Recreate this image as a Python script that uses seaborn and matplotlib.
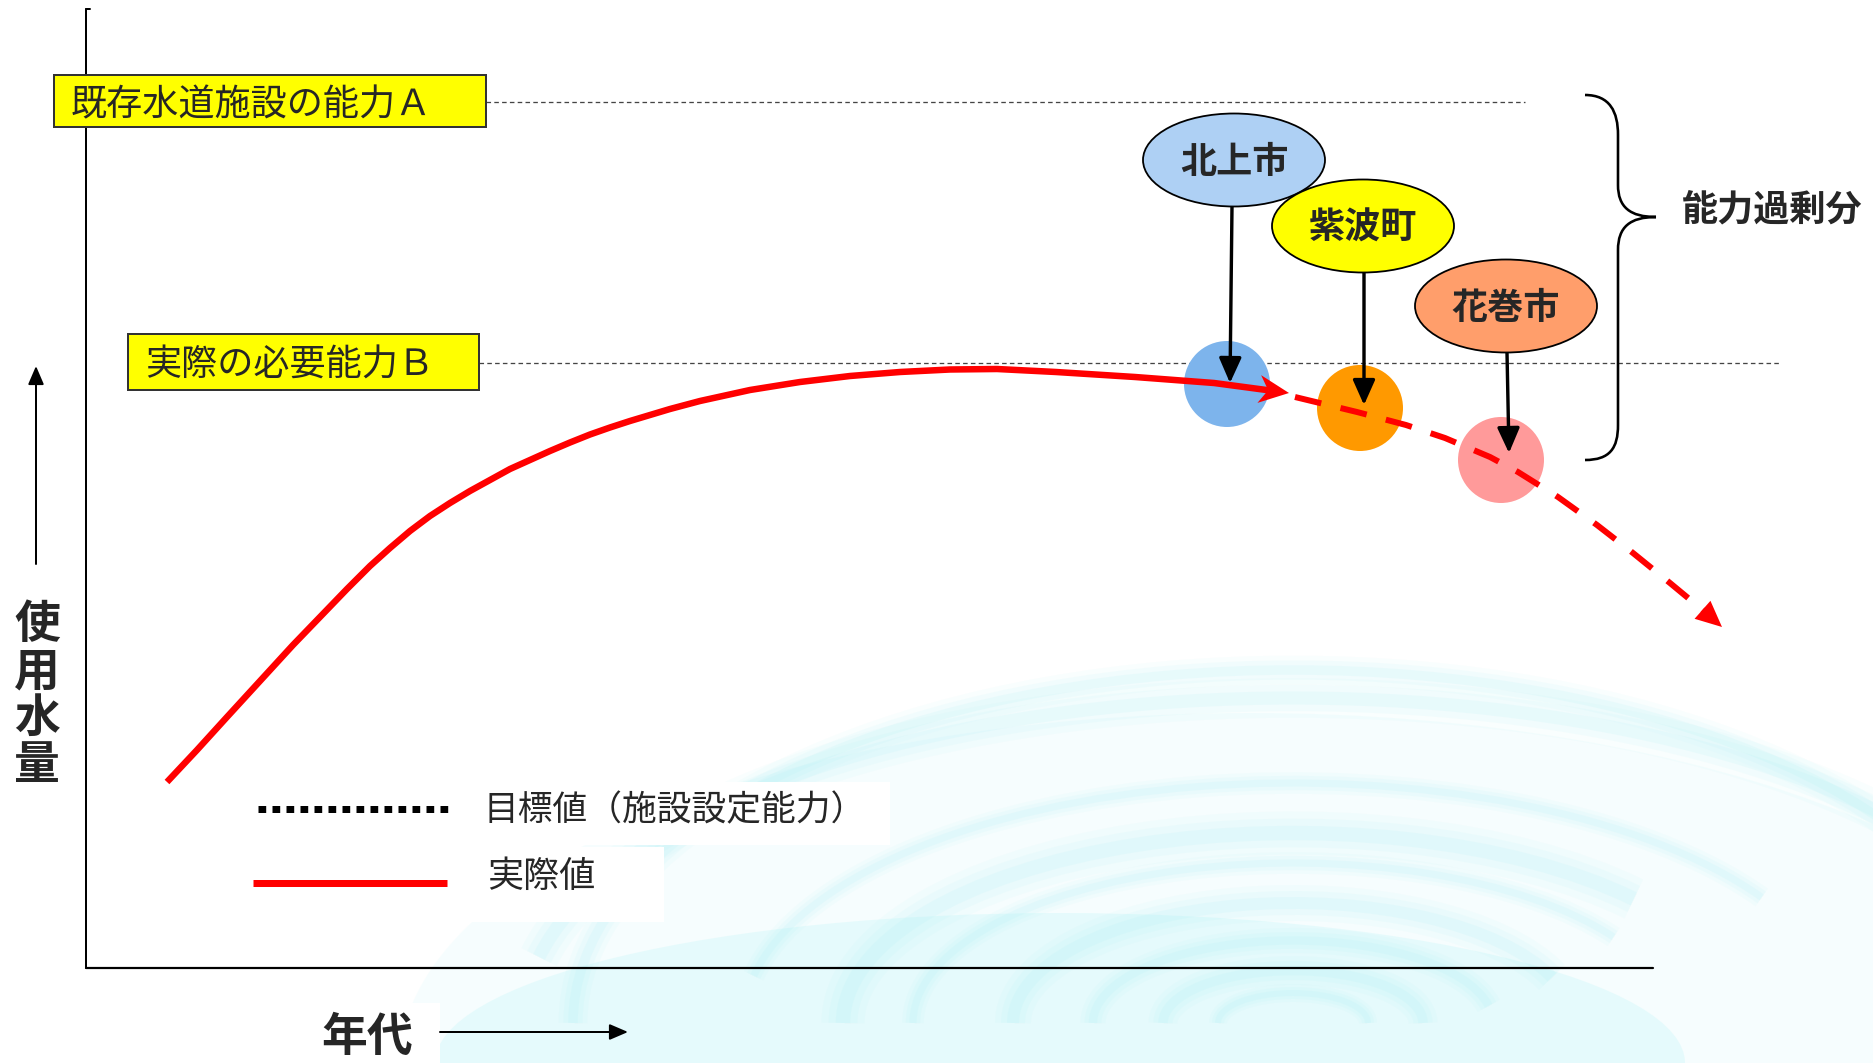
import numpy as np
import pandas as pd
import matplotlib
matplotlib.use("Agg")
import matplotlib.pyplot as plt
import seaborn as sns
from matplotlib.patches import Ellipse, Rectangle, Polygon, Arc, PathPatch
from matplotlib.path import Path

# ---------------- data (pixel-space diagram coordinates) ----------------
actual_x = [167, 197, 227, 260, 293, 320, 347, 370, 390, 410, 430, 450, 470, 490, 510, 530,
            550, 570, 590, 610, 630, 650, 670, 700, 750, 800, 850, 900, 950, 997, 1056, 1135,
            1214, 1289]
actual_y = [782, 750, 717, 681, 645, 617, 589, 566, 548, 531, 516, 503, 491, 480, 469, 460,
            451, 442.5, 434.5, 427.5, 421, 415, 409, 401, 390, 382, 376, 372, 369.5, 369, 372,
            377, 383, 393]
forecast_x = [1295, 1357, 1406, 1445, 1490, 1518, 1558, 1597, 1633, 1670, 1705, 1722]
forecast_y = [397, 412, 425, 438, 457, 472, 497, 525, 553, 583, 612, 627]

capacity_labels = ['既存水道施設の能力Ａ', '実際の必要能力Ｂ']
capacity_levels = [102, 363]
capacity_line_start = [486, 479]
capacity_line_end = [1525, 1780]

cities = ['北上市', '紫波町', '花巻市']
city_x = [1227, 1360, 1501]
city_y = [384, 408, 460]
label_x = [1234, 1363, 1506]
label_y = [160, 226, 306]
arrow_tip_x = [1230, 1364, 1509]
arrow_tip_y = [383, 405, 453]

legend_labels = ['目標値（施設設定能力）', '実際値']
y_label = '使用水量'
x_label = '年代'
surplus_label = '能力過剰分'

# ---------------- style ----------------
sns.set_style('white')
plt.rcParams['font.family'] = ['Noto Sans CJK JP', 'DejaVu Sans']

W, H = 1874, 1063
fig = plt.figure(figsize=(W / 100, H / 100), dpi=100)
ax = fig.add_axes([0, 0, 1, 1])
ax.set_xlim(0, W)
ax.set_ylim(H, 0)
ax.axis('off')

PT = 0.72   # points per pixel at dpi 100
DY = 3      # vertical nudge so CJK glyphs sit visually centred

# ---------------- faint water-ripple background ----------------
cx, cy = 1293, 1023
ax.add_patch(Ellipse((1250, 1063), 1700, 700, facecolor='#c6f7f9', alpha=0.14, lw=0, zorder=0))
ax.add_patch(Ellipse((1060, 1063), 1250, 300, facecolor='#bff6f8', alpha=0.3, lw=0, zorder=0))
rings = [(1440, 706, 16, 180, 350), (1540, 650, 22, 185, 345), (1100, 480, 12, 185, 345),
         (900, 380, 24, 180, 340), (760, 320, 12, 180, 345), (560, 240, 20, 180, 350),
         (400, 165, 14, 180, 355), (260, 105, 16, 180, 360), (150, 60, 10, 180, 360)]
for rw, rh, rlw, t1, t2 in rings:
    for k, a in [(1.8, 0.06), (1.2, 0.08), (0.6, 0.11)]:
        ax.add_patch(Arc((cx, cy), rw, rh, theta1=t1, theta2=t2, color='#9eeef3',
                         lw=rlw * k * PT, alpha=a, zorder=0))
# white areas that mask the ripple behind texts
ax.add_patch(Rectangle((472, 782), 418, 63, facecolor='white', lw=0, zorder=1))
ax.add_patch(Rectangle((470, 847), 194, 75, facecolor='white', lw=0, zorder=1))
ax.add_patch(Rectangle((0, 1003), 440, 60, facecolor='white', lw=0, zorder=1))

# ---------------- axes ----------------
ax.plot([86, 86], [9, 968], color='black', lw=2 * PT, zorder=3)
ax.plot([86, 90], [9, 9], color='black', lw=2 * PT, zorder=3)
ax.plot([86, 1653], [968, 968], color='black', lw=2.2 * PT, zorder=3)

ax.annotate('', xy=(36, 366), xytext=(36, 564),
            arrowprops=dict(arrowstyle='-|>,head_length=0.7,head_width=0.3', color='black',
                            lw=2 * PT, shrinkA=0, shrinkB=0, mutation_scale=16), zorder=3)
ax.annotate('', xy=(628, 1032), xytext=(440, 1032),
            arrowprops=dict(arrowstyle='-|>,head_length=0.7,head_width=0.3', color='black',
                            lw=2 * PT, shrinkA=0, shrinkB=0, mutation_scale=16), zorder=3)

for i, ch in enumerate(y_label):
    ax.text(37, 622 + 47 * i + DY, ch, fontsize=33, fontweight='bold', ha='center',
            va='center', zorder=4)
ax.text(367, 1035 + DY, x_label, fontsize=33, fontweight='bold', ha='center', va='center',
        zorder=4)

# ---------------- capacity levels ----------------
box_specs = [(54, 75, 432, 52, 71), (128, 334, 351, 56, 145)]
for lab, lev, x0, x1, (bx, by, bw, bh, tx) in zip(capacity_labels, capacity_levels,
                                                   capacity_line_start, capacity_line_end,
                                                   box_specs):
    ax.plot([x0, x1], [lev, lev], color='#444444', lw=1.3 * PT, linestyle=(0, (3.5, 2.5)),
            zorder=2)
    ax.add_patch(Rectangle((bx, by), bw, bh, facecolor='#ffff00', edgecolor='#333333',
                           lw=2 * PT, zorder=4))
    ax.text(tx, by + bh / 2 + DY + 1, lab, fontsize=26, ha='left', va='center', zorder=5)

# ---------------- city markers ----------------
mk = pd.DataFrame({'x': city_x, 'y': city_y, 'city': cities})
sns.scatterplot(data=mk, x='x', y='y', hue='city', hue_order=cities,
                palette=['#7db4ec', '#ff9900', '#ff9a9a'], s=(86 * PT) ** 2,
                linewidth=0, legend=False, ax=ax, zorder=3)

# ---------------- red usage curve ----------------
tip = np.array([actual_x[-1], actual_y[-1]], float)
prev = np.array([actual_x[-2], actual_y[-2]], float)
d = (tip - prev) / np.linalg.norm(tip - prev)
n = np.array([-d[1], d[0]])
L, Wd, N = 30, 14, 9
notch = tip - (L - N) * d
line_x = actual_x[:-1] + [notch[0]]
line_y = actual_y[:-1] + [notch[1]]
sns.lineplot(x=line_x, y=line_y, sort=False, estimator=None, color='#ff0000',
             lw=6.5 * PT, ax=ax, zorder=6, solid_capstyle='butt', solid_joinstyle='round')
ax.add_patch(Polygon([tip, tip - L * d + Wd * n, notch, tip - L * d - Wd * n],
                     closed=True, facecolor='#ff0000', edgecolor='none', zorder=6))

ftip = np.array([forecast_x[-1], forecast_y[-1]], float)
fprev = np.array([forecast_x[-2], forecast_y[-2]], float)
fd = (ftip - fprev) / np.linalg.norm(ftip - fprev)
fn = np.array([-fd[1], fd[0]])
FL, FW = 26, 12
fbase = ftip - FL * fd
sns.lineplot(x=forecast_x[:-1] + [fbase[0]], y=forecast_y[:-1] + [fbase[1]], sort=False,
             estimator=None, color='#ff0000', lw=6 * PT, ax=ax, zorder=6,
             linestyle=(0, (4.5, 3.3)), dash_capstyle='butt')
ax.add_patch(Polygon([ftip, fbase + FW * fn, fbase - FW * fn], closed=True,
                     facecolor='#ff0000', edgecolor='none', zorder=6))

# ---------------- city labels and arrows ----------------
label_colors = ['#aed0f4', '#ffff00', '#ff9e6b']
for i, (c, lx, ly, tx_, ty_, col) in enumerate(zip(cities, label_x, label_y, arrow_tip_x,
                                                   arrow_tip_y, label_colors)):
    ax.add_patch(Ellipse((lx, ly), 182, 93, facecolor=col, edgecolor='black',
                         lw=1.8 * PT, zorder=8 + i))
    ax.text(lx, ly + DY - 1, c, fontsize=26, fontweight='bold', ha='center', va='center',
            zorder=8 + i)
    ax.annotate('', xy=(tx_, ty_), xytext=(lx - 2 if i == 0 else lx + 1, ly + 46.5),
                arrowprops=dict(arrowstyle='-|>,head_length=0.9,head_width=0.4', color='black',
                                lw=3.4 * PT, shrinkA=0, shrinkB=0, mutation_scale=17), zorder=7)

# ---------------- brace ----------------
verts = [(1585, 95), (1610, 95), (1618, 112), (1618, 135),
         (1618, 185),
         (1618, 207), (1630, 217), (1656, 217),
         (1630, 217), (1618, 227), (1618, 250),
         (1618, 425),
         (1618, 448), (1610, 460), (1585, 460)]
codes = [Path.MOVETO, Path.CURVE4, Path.CURVE4, Path.CURVE4,
         Path.LINETO,
         Path.CURVE4, Path.CURVE4, Path.CURVE4,
         Path.CURVE4, Path.CURVE4, Path.CURVE4,
         Path.LINETO,
         Path.CURVE4, Path.CURVE4, Path.CURVE4]
ax.add_patch(PathPatch(Path(verts, codes), facecolor='none', edgecolor='black',
                       lw=2.6 * PT, zorder=5))
ax.text(1682, 207 + DY, surplus_label, fontsize=26, fontweight='bold', ha='left', va='center',
        zorder=5)

# ---------------- legend ----------------
ax.plot([258, 452], [809, 809], color='black', lw=7 * PT, linestyle=(0, (1.1, 0.9)),
        dash_capstyle='butt', zorder=5)
ax.plot([253, 447], [883, 883], color='#ff0000', lw=7 * PT, solid_capstyle='butt', zorder=5)
ax.text(484, 808 + DY, legend_labels[0], fontsize=25, ha='left', va='center', zorder=5)
ax.text(487, 874 + DY, legend_labels[1], fontsize=26, ha='left', va='center', zorder=5)

fig.savefig('out.png', dpi=100, facecolor='white')
